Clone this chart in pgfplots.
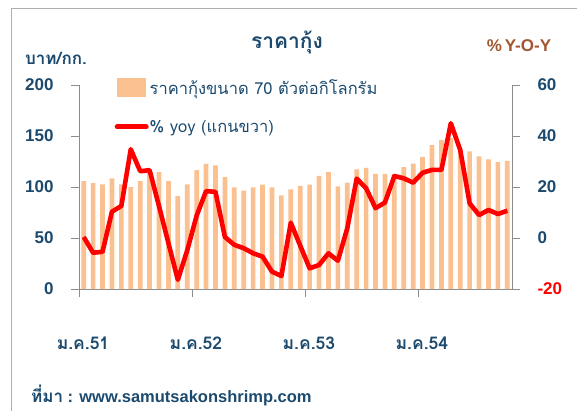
\documentclass[border=0pt]{standalone}
\usepackage{pgfplots}
\pgfplotsset{compat=1.18}
\usepackage{fontspec}
\setmainfont{Liberation Sans}
\newfontfamily\thaifont[Script=Thai]{Loma}

\definecolor{navy}{HTML}{1B4A6E}
\definecolor{barfill}{HTML}{FAC090}
\definecolor{yoybrown}{HTML}{A0562E}
\definecolor{axgray}{HTML}{8C8C8C}

% monthly price, Jan 2008 (index 0) to Oct 2011 (index 45)
\pgfplotstableread{
m price yoy
0  105.8   0.4
1  103.9  -5.8
2  102.6  -5.4
3  108.4  10.3
4  102.6  12.6
5  100.0  34.8
6  105.8  26.2
7  117.0  26.6
8  114.5  12.5
9  105.8  -2.0
10  91.0 -16.4
11 102.6  -4.8
12 116.5   8.8
13 122.6  18.4
14 121.3  18.1
15 109.7   0.4
16  99.7  -2.7
17  96.4  -4.0
18  99.7  -6.0
19 102.3  -7.3
20  99.7 -13.2
21  91.8 -14.9
22  97.7   6.0
23 101.0  -3.0
24 102.3 -11.9
25 111.0 -10.6
26 114.6  -6.0
27 100.5  -8.9
28 104.2   3.8
29 117.4  23.3
30 118.7  19.5
31 112.9  11.7
32 112.9  13.9
33 112.5  24.3
34 119.5  23.4
35 123.0  21.7
36 129.5  25.6
37 141.0  26.7
38 146.0  26.7
39 148.0  45.0
40 137.0  34.5
41 135.0  13.6
42 130.0   9.0
43 127.0  11.0
44 124.5   9.4
45 125.5  10.7
}\shrimp

\begin{document}
\begin{tikzpicture}[x=1pt,y=1pt]
\path[use as bounding box] (0,0) rectangle (577,410);
\draw[axgray!70] (11,-5) -- (11,402) -- (590,402);

\begin{axis}[
  at={(79pt,121pt)}, anchor=south west,
  scale only axis, width=433pt, height=204pt,
  xmin=-0.5, xmax=45.5, ymin=0, ymax=200,
  axis x line*=bottom, axis y line*=left,
  axis line style={draw=axgray, thin, -},
  tick align=outside, major tick length=8pt,
  tick style={draw=axgray, thin},
  xtick={-0.5,11.5,23.5,35.5},
  xticklabels={ม.ค.51,ม.ค.52,ม.ค.53,ม.ค.54},
  xticklabel style={font=\thaifont\bfseries\fontsize{17.5}{17.5}\selectfont, text=navy, yshift=-36pt, xshift=4pt},
  ytick={0,50,100,150,200},
  yticklabels={0,50,100,150,200},
  yticklabel style={font=\bfseries\fontsize{17}{17}\selectfont, text=navy, xshift=-14pt},
  legend style={at={(0.082,1.035)}, anchor=north west, draw=none, fill=none,
    font=\thaifont\fontsize{16.5}{16.5}\selectfont, text=navy,
    row sep=22pt, inner sep=0pt, nodes={inner sep=1pt}},
  legend cell align=left,
]
\addplot[ybar, bar width=4.7pt, fill=barfill, draw=none,
  legend image code/.code={\fill[barfill] (0pt,-9pt) rectangle (29pt,10pt);}]
  table[x=m, y=price] {\shrimp};
\addlegendentry{ราคากุ้งขนาด 70 ตัวต่อกิโลกรัม}
\addlegendimage{legend image code/.code={\draw[red, line width=5pt, line cap=round] (0pt,0pt) -- (29pt,0pt);}}
\addlegendentry{\% yoy (แกนขวา)}
\end{axis}

\begin{axis}[
  at={(79pt,121pt)}, anchor=south west,
  scale only axis, width=433pt, height=204pt,
  xmin=-0.5, xmax=45.5, ymin=-20, ymax=60,
  axis x line=none, axis y line*=right,
  axis line style={draw=axgray, thin, -},
  tick align=outside, major tick length=8pt,
  tick style={draw=axgray, thin},
  ytick={-20,0,20,40,60},
  yticklabels={\textcolor{red}{-20},0,20,40,60},
  yticklabel style={font=\bfseries\fontsize{17}{17}\selectfont, text=navy, xshift=14pt},
]
\addplot[red, line width=4.6pt, line join=round] table[x=m, y=yoy] {\shrimp};
\end{axis}

\node[font=\thaifont\bfseries\fontsize{21}{21}\selectfont, text=navy] at (287,368) {ราคากุ้ง};
\node[font=\thaifont\bfseries\fontsize{17}{17}\selectfont, text=navy] at (56,352) {บาท/กก.};
\node[font=\bfseries\fontsize{17}{17}\selectfont, text=yoybrown] at (519,364) {\%\,Y-O-Y};
\node[anchor=west, inner sep=0pt, text=navy] at (31,15)
  {{\thaifont\bfseries\fontsize{17}{17}\selectfont ที่มา}{\bfseries\fontsize{16.5}{16.5}\selectfont{} : www.samutsakonshrimp.com}};
\end{tikzpicture}
\end{document}
